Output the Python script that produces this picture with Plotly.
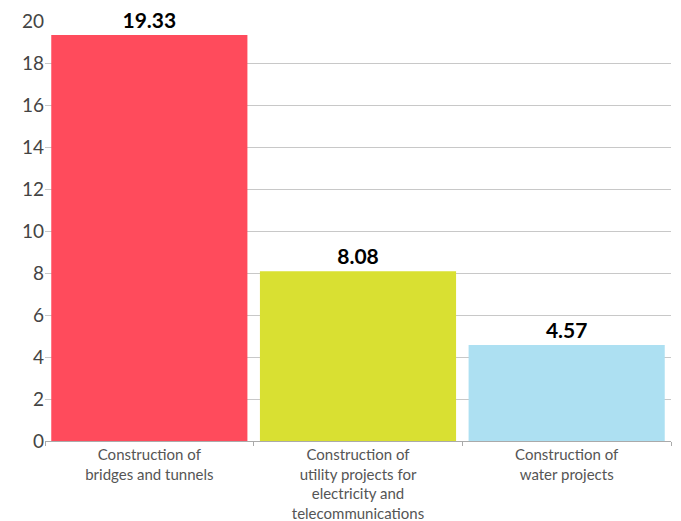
import plotly.graph_objects as go

categories = ["Construction of<br>bridges and tunnels",
              "Construction of<br>utility projects for<br>electricity and<br>telecommunications",
              "Construction of<br>water projects"]
values = [19.33, 8.08, 4.57]
labels = ["19.33", "8.08", "4.57"]
colors = ["#FF4B5C", "#D9E032", "#ADE0F2"]
y_ticks = [0, 2, 4, 6, 8, 10, 12, 14, 16, 18, 20]

fig = go.Figure(go.Bar(
    x=categories, y=values, marker=dict(color=colors, line=dict(width=0)),
    text=labels, textposition="outside", cliponaxis=False,
    textfont=dict(family="Lato, Open Sans, sans-serif", size=21, color="#000000", weight="bold"),
))
fig.update_layout(
    width=681, height=521,
    margin=dict(l=45, r=10, t=21, b=80),
    plot_bgcolor="white", paper_bgcolor="white",
    bargap=0.06, showlegend=False,
    font=dict(family="Lato, Open Sans, sans-serif"),
)
fig.update_yaxes(range=[0, 20], tickvals=y_ticks, showgrid=True, gridcolor="#C8C8C8",
                 gridwidth=1, zeroline=False, showline=False, automargin=False,
                 tickfont=dict(size=19, color="#444444"), ticks="")
fig.update_xaxes(showline=True, linecolor="#AAAAAA", linewidth=1, ticks="outside",
                 tickson="boundaries", ticklen=4, tickcolor="#AAAAAA", automargin=False,
                 tickfont=dict(size=15, color="#555555"))
fig.write_html("out.html", config={"displayModeBar": False},
               post_script="document.body.style.margin='0';document.body.style.overflow='hidden';")
